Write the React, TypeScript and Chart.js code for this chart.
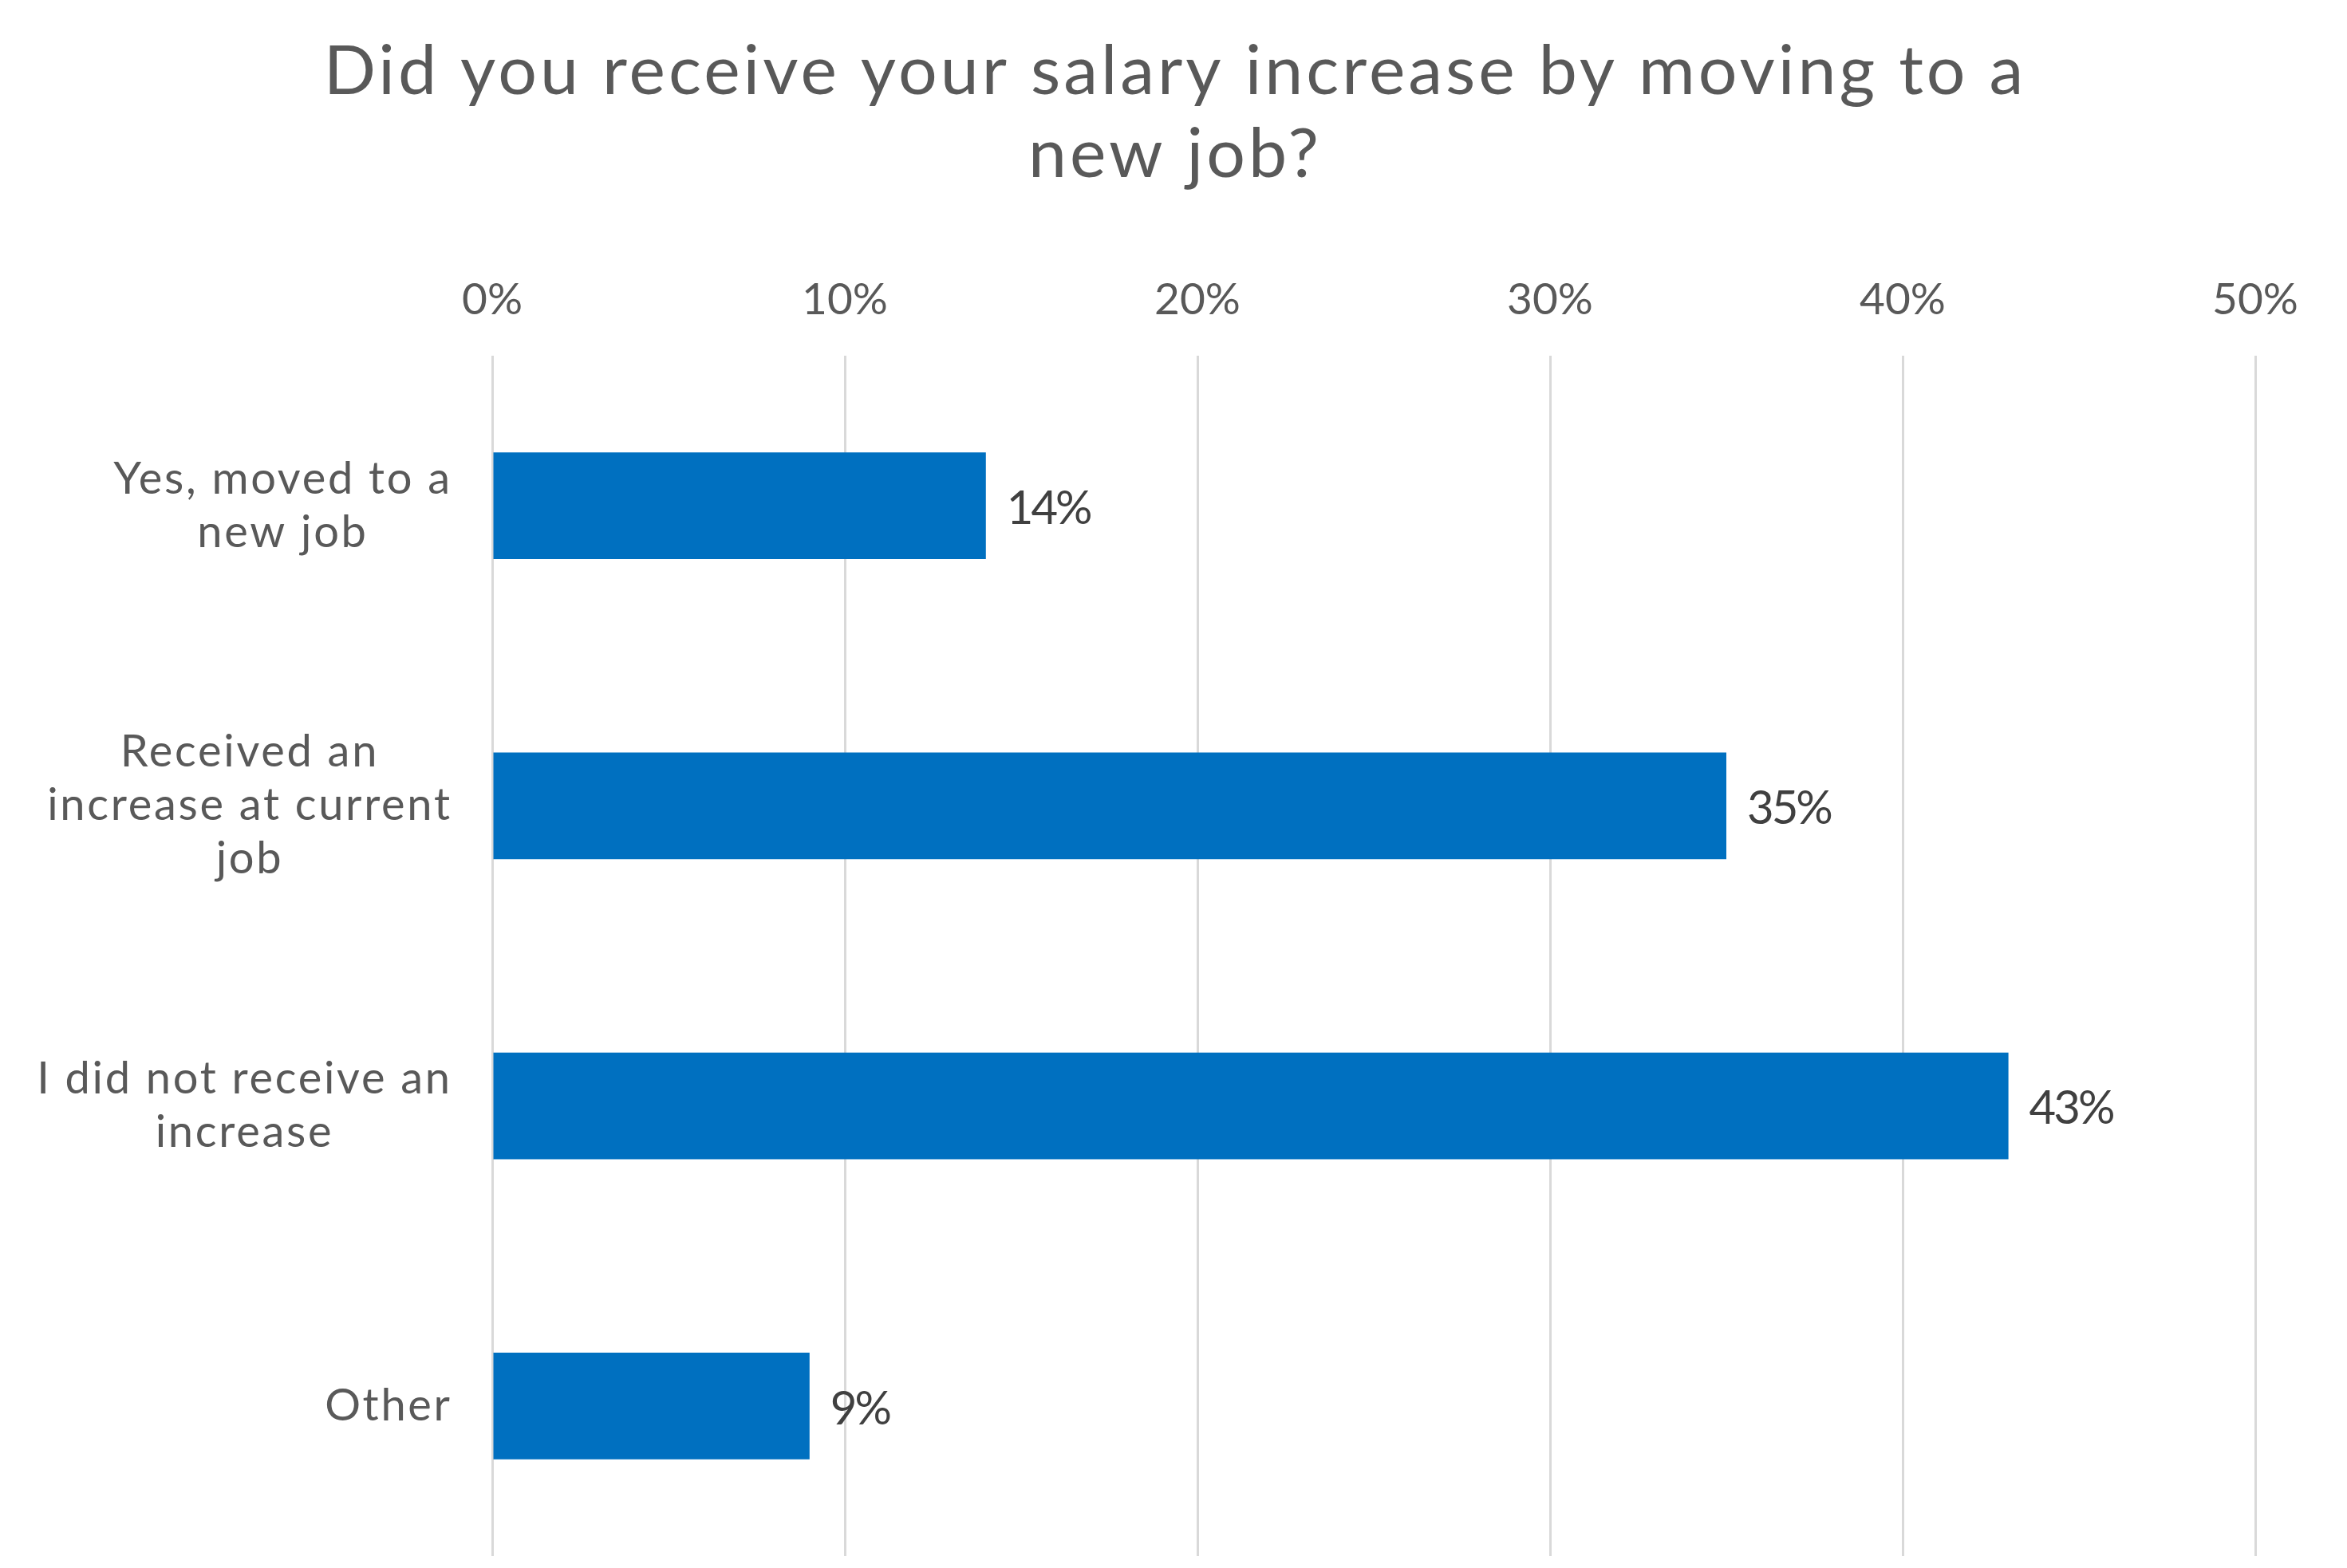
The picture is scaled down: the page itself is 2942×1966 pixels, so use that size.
import React, { useEffect, useRef } from "react";
import { Chart, registerables } from "chart.js";

Chart.register(...registerables);

const titleLines = ["Did you receive your salary increase by moving to a", "new job?"];
const categoryLines = [
  ["Yes, moved to a", "new job"],
  ["Received an", "increase at current", "job"],
  ["I did not receive an", "increase"],
  ["Other"],
];
const values = [14, 35, 43, 9];
const axisMin = 0;
const axisMax = 50;
const axisStep = 10;

const FONT = "Lato, 'Noto Sans', sans-serif";
const W = 2942;
const H = 1966;

export default function App() {
  const ref = useRef<HTMLCanvasElement | null>(null);

  useEffect(() => {
    const canvas = ref.current;
    if (!canvas) return;

    const titlePlugin = {
      id: "customTitle",
      afterDraw(chart: any) {
        const ctx = chart.ctx;
        ctx.save();
        ctx.font = `86px ${FONT}`;
        (ctx as any).letterSpacing = "4px";
        ctx.fillStyle = "#595959";
        ctx.textBaseline = "middle";
        ctx.textAlign = "center";
        titleLines.forEach((l, i) => {
          ctx.fillText(l, chart.width / 2 + 2, 90 + i * 104);
        });
        ctx.restore();
      },
    };

    const catLabelPlugin = {
      id: "catLabels",
      afterDraw(chart: any) {
        const ctx = chart.ctx;
        const yScale = chart.scales.y;
        ctx.save();
        ctx.font = `56px ${FONT}`;
        (ctx as any).letterSpacing = "2.7px";
        ctx.fillStyle = "#595959";
        ctx.textBaseline = "middle";
        ctx.textAlign = "center";
        const lh = 67;
        const right = chart.chartArea.left - 53 + 2.7;
        categoryLines.forEach((lines, i) => {
          const w = Math.max(...lines.map((l) => ctx.measureText(l).width));
          const cx = right - w / 2;
          const cy = yScale.getPixelForValue(i);
          lines.forEach((l, j) => {
            ctx.fillText(l, cx, cy + (j - (lines.length - 1) / 2) * lh);
          });
        });
        ctx.restore();
      },
    };

    const valueLabelPlugin = {
      id: "valueLabels",
      afterDatasetsDraw(chart: any) {
        const ctx = chart.ctx;
        const meta = chart.getDatasetMeta(0);
        ctx.save();
        ctx.font = `58px ${FONT}`;
        (ctx as any).letterSpacing = "-3px";
        ctx.fillStyle = "#404040";
        ctx.textBaseline = "middle";
        ctx.textAlign = "left";
        meta.data.forEach((el: any, i: number) => {
          ctx.fillText(`${values[i]}%`, el.x + 26, el.y + 4);
        });
        ctx.restore();
      },
    };

    const chart = new Chart(canvas, {
      type: "bar",
      data: {
        labels: categoryLines.map((c) => c.join(" ")),
        datasets: [
          {
            data: values,
            backgroundColor: "#0070C0",
            borderWidth: 0,
            barPercentage: 0.356,
            categoryPercentage: 1,
          },
        ],
      },
      options: {
        indexAxis: "y",
        responsive: false,
        animation: false,
        devicePixelRatio: 1,
        layout: { padding: { left: 0, right: 115, top: 246, bottom: 15 } },
        plugins: {
          legend: { display: false },
          tooltip: { enabled: false },
          title: { display: false },
        },
        scales: {
          x: {
            type: "linear",
            position: "top",
            min: axisMin,
            max: axisMax,
            ticks: {
              stepSize: axisStep,
              callback: (v: any) => `${v}%`,
              color: "#595959",
              font: { family: FONT, size: 55 },
              padding: 37,
            },
            grid: { color: "#d9d9d9", lineWidth: 3, drawTicks: false },
            border: { display: false },
            afterFit: (s: any) => {
              s.height = 200;
            },
          },
          y: {
            type: "category",
            ticks: { display: false },
            grid: { display: false, drawTicks: false },
            border: { display: false },
            afterFit: (s: any) => {
              s.width = 617;
            },
          },
        },
      },
      plugins: [titlePlugin, catLabelPlugin, valueLabelPlugin],
    } as any);

    return () => chart.destroy();
  }, []);

  return (
    <div style={{ position: "absolute", left: 0, top: 0, width: W, height: H, background: "#fff" }}>
      <canvas ref={ref} width={W} height={H} style={{ display: "block", width: W, height: H }} />
    </div>
  );
}
